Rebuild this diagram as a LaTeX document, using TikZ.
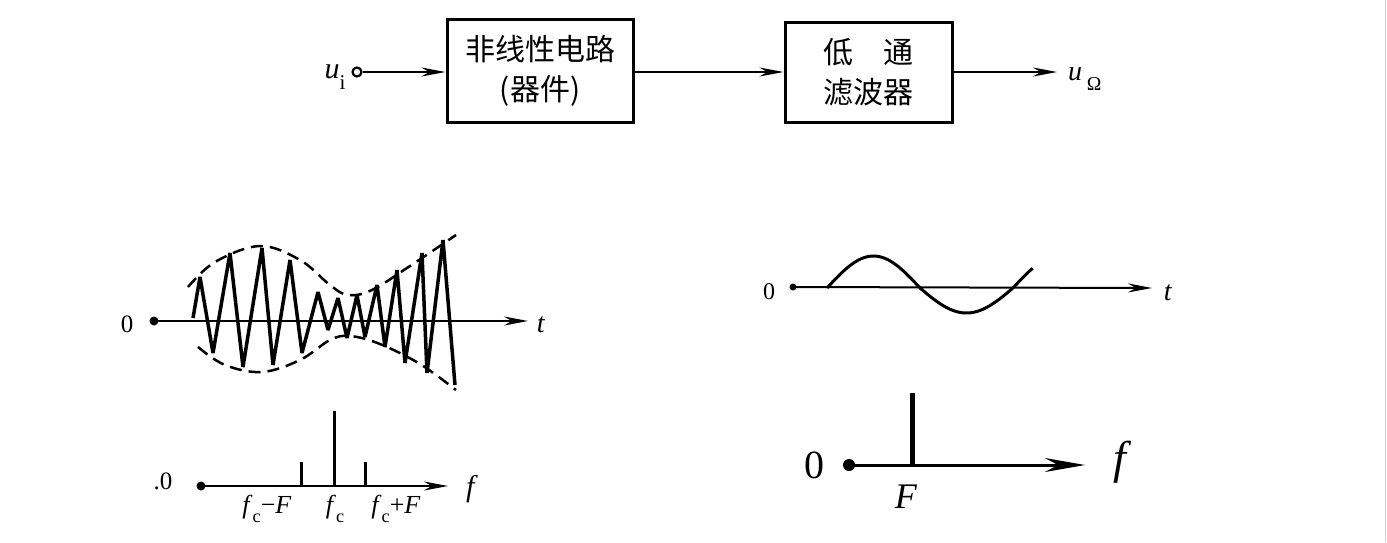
\documentclass[tikz,border=0pt]{standalone}
\usepackage{fontspec}
\setmainfont{Liberation Serif}
\newfontfamily\cjk{Noto Sans CJK SC}
\usetikzlibrary{arrows.meta}
\newcommand{\itl}[1]{\textit{#1}}
\newcommand{\sbs}[1]{\raisebox{-0.35em}{\scalebox{0.7}{#1}}}
\begin{document}
\begin{tikzpicture}[x=1pt,y=-1pt,
  blockbox/.style={draw,line width=3pt,inner sep=0pt,align=center,
    font=\cjk\fontsize{30}{40}\selectfont},
  sigarrow/.style={line width=2pt,-{Stealth[length=24pt,width=9pt]}},
  axisarrow/.style={line width=2pt,-{Stealth[length=24pt,width=9pt]}},
  bigaxis/.style={line width=3pt,-{Stealth[length=40pt,width=14pt]}},
  dot/.style={circle,fill,inner sep=0pt,minimum size=#1},
  lbl/.style={inner sep=0pt,font=\fontsize{#1}{#1}\selectfont},
  wave/.style={line width=3.5pt,line join=miter,miter limit=3},
  env/.style={line width=2.5pt,dash pattern=on 12pt off 7pt},
  line/.style={line width=#1}]
\useasboundingbox (0,0) rectangle (1387,542);
\fill[white] (0,0) rectangle (1387,542);
\draw[line width=1.5pt,black!18] (1385.5,0) -- (1385.5,542);

% ---------- top block diagram ----------
\node[blockbox,minimum width=186pt,minimum height=103pt] (nl) at (540,70.5)
  {非线性电路\\(器件)};
\node[blockbox,minimum width=167pt,minimum height=100pt] (lp) at (868.5,72)
  {低　通\\滤波器};
\node[circle,draw,line width=2.2pt,fill=white,inner sep=0pt,minimum size=9pt] (in) at (357,72) {};
\node[lbl=30] (ui) at (335,77) {\itl{u}\sbs{i}};
\coordinate (out) at (1057,72);
\node[lbl=28,anchor=west] (uo) at (1068,79) {\itl{u}\,\sbs{Ω}};
\draw[sigarrow] (in) -- (nl.west |- in);
\draw[sigarrow] (nl.east |- in) -- (lp.west |- in);
\draw[sigarrow] (lp.east |- in) -- (out);

% ---------- bottom left: AM waveform ----------
\node[dot=9pt] (o1) at (154,321) {};
\node[lbl=25] (z1) at (127,324) {0};
\coordinate (t1) at (528,321);
\node[lbl=28] (tl1) at (541,325) {\itl{t}};
\draw[axisarrow] (o1.center) -- (t1);
\draw[wave] (193,318) -- (200,277) -- (213,353) -- (230,253) -- (243,367)
  -- (262,248) -- (273,365) -- (290,260) -- (302,353) -- (318,292)
  -- (328,330) -- (338,298) -- (347,338) -- (357,295) -- (365,337)
  -- (377,285) -- (385,347) -- (397,270) -- (405,363) -- (422,253)
  -- (427,373) -- (443,240) -- (455,385);
\draw[env] plot[smooth,tension=0.6] coordinates
  {(188,287) (215,262) (260,246) (300,260) (330,285) (348,295) (372,290) (410,266) (456,235)};
\draw[env] plot[smooth,tension=0.6] coordinates
  {(198,347) (225,365) (262,372) (300,360) (330,340) (350,336) (380,344) (420,364) (456,390)};

% ---------- bottom left: spectrum ----------
\node[dot=9pt] (o2) at (201,486) {};
\node[lbl=25] (z2) at (163,481) {.0};
\coordinate (f2) at (448,486);
\node[lbl=30] (fl2) at (472,489) {\itl{f}};
\coordinate (s1) at (301,462);
\coordinate (s2) at (334,411);
\coordinate (s3) at (365,462);
\draw[line=3pt] (s1) -- (s1 |- o2);
\draw[line=3pt] (s2) -- (s2 |- o2);
\draw[line=3pt] (s3) -- (s3 |- o2);
\draw[axisarrow] (o2.center) -- (f2);
\node[lbl=26] (l1) at (267,509) {\itl{f}\sbs{c}−\itl{F}};
\node[lbl=26] (l2) at (335,509) {\itl{f}\sbs{c}};
\node[lbl=26] (l3) at (396,509) {\itl{f}\sbs{c}+\itl{F}};

% ---------- bottom right: sine ----------
\node[dot=7pt] (o3) at (793,287) {};
\node[lbl=24] (z3) at (769,292) {0};
\coordinate (t3) at (1152,288);
\node[lbl=28] (tl3) at (1168,293) {\itl{t}};
\draw[axisarrow] (o3.center) -- (t3);
\draw[line width=3pt,domain=0:398,samples=80,smooth]
  plot ({827+\x/360*186},{288-((sin(\x)>0) ? 32 : 25)*sin(\x)});

% ---------- bottom right: spectrum ----------
\node[dot=12pt] (o4) at (849,465) {};
\node[lbl=40] (z4) at (814,465) {0};
\coordinate (f4) at (1085,465);
\node[lbl=46] (fl4) at (1123,462) {\itl{f}};
\coordinate (s4) at (912,393);
\draw[line=5pt] (s4) -- (s4 |- o4);
\draw[bigaxis] (o4.center) -- (f4);
\node[lbl=36] (F4) at (906,497) {\itl{F}};
\end{tikzpicture}
\end{document}
